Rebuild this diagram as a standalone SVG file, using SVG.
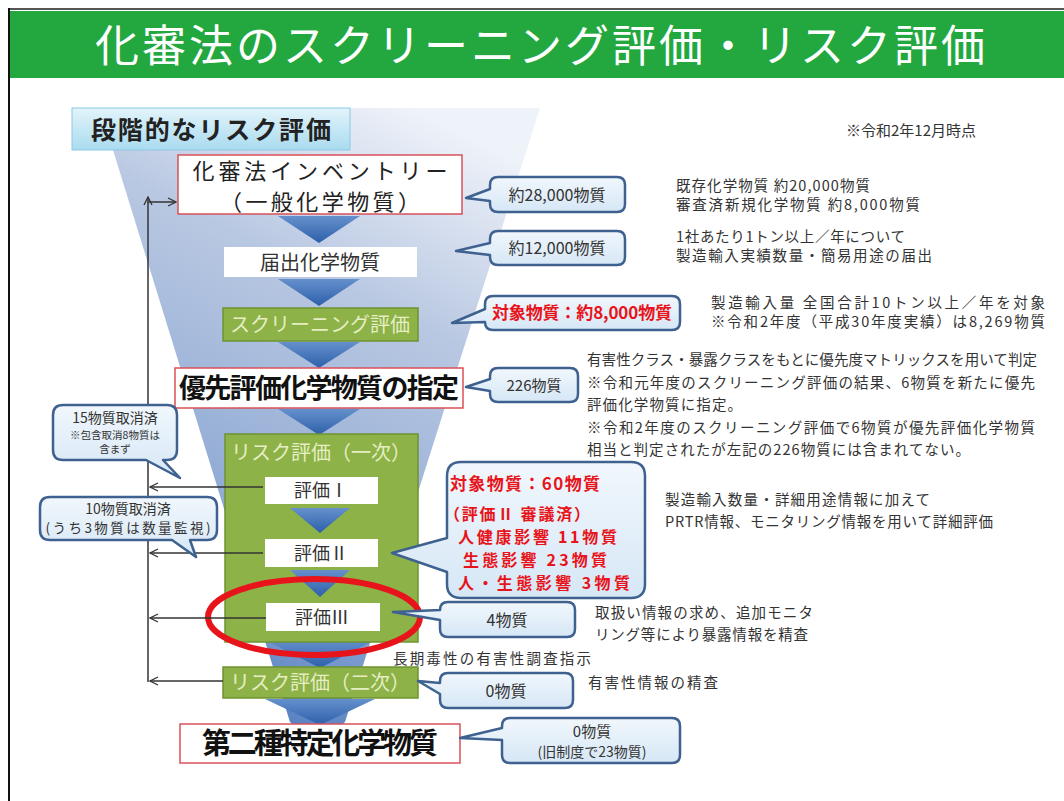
<svg xmlns="http://www.w3.org/2000/svg" width="1064" height="801" viewBox="0 0 1064 801">
<defs>
<linearGradient id="funnelG" x1="0.7" y1="0" x2="0.35" y2="1">
<stop offset="0" stop-color="#eef2f9"/>
<stop offset="0.3" stop-color="#b9c8e2"/>
<stop offset="0.75" stop-color="#8aa6d2"/>
<stop offset="1" stop-color="#4f7bbf"/>
</linearGradient>
<linearGradient id="labelG" x1="0" y1="0" x2="0" y2="1">
<stop offset="0" stop-color="#e3f4fb"/>
<stop offset="1" stop-color="#a9dbef"/>
</linearGradient>
<linearGradient id="triG" x1="0" y1="0" x2="0" y2="1">
<stop offset="0" stop-color="#6590cc"/>
<stop offset="1" stop-color="#2d60aa"/>
</linearGradient>
<linearGradient id="callG" x1="0" y1="0" x2="0" y2="1">
<stop offset="0" stop-color="#f1f7fc"/>
<stop offset="1" stop-color="#d6e7f6"/>
</linearGradient>
<marker id="arr" viewBox="0 0 10 10" refX="9" refY="5" markerWidth="10" markerHeight="10" markerUnits="userSpaceOnUse" orient="auto">
<path d="M1,1 L9,5 L1,9" fill="none" stroke="#333" stroke-width="1.3"/>
</marker>
<style>
text{font-family:"Noto Sans CJK JP","Noto Sans CJK SC",sans-serif;}
.tri{fill:url(#triG);}
.redbox{fill:#fff;stroke:#d9505a;stroke-width:1.5;}
.white{fill:#fff;}
.green{fill:#8db247;stroke:#6f9232;stroke-width:1.5;}
.gtxt{fill:#e6eec4;font-size:20px;text-anchor:middle;}
.call{fill:url(#callG);stroke:#3f6190;stroke-width:2.5;stroke-linejoin:round;}
.ct{fill:#333;font-size:16px;text-anchor:middle;}
.red{fill:#e8141b;font-weight:bold;font-size:17px;}
.red2{fill:#e8141b;font-weight:bold;font-size:16px;}
.note{fill:#333;font-size:14.5px;}
.wt{fill:#333;font-size:18px;text-anchor:middle;}
.conn{fill:none;stroke:#333;stroke-width:1.5;}
</style>
</defs>
<rect width="1064" height="801" fill="#fff"/>
<g id="frame">
<line x1="8" y1="9" x2="1064" y2="9" stroke="#555" stroke-width="2"/>
<line x1="9" y1="8" x2="9" y2="801" stroke="#111" stroke-width="2"/>
<rect x="10" y="11" width="1054" height="67" fill="#22a83f"/>
<text x="540" y="62" font-size="44" fill="#fff" text-anchor="middle" textLength="890">化審法のスクリーニング評価・リスク評価</text>
</g>
<g id="funnel">
<path d="M100,108 L540,108 L345,722 Q318,748 290,722 Z" fill="url(#funnelG)"/>
</g>
<g id="stage-label">
<rect x="72" y="108" width="278" height="42" fill="url(#labelG)" stroke="#8cc9e3" stroke-width="1"/>
<text x="211" y="139" font-size="25" font-weight="bold" fill="#222" text-anchor="middle" textLength="240">段階的なリスク評価</text>
</g>
<g id="date-note">
<text x="911" y="136" font-size="15" fill="#333" text-anchor="middle">※令和2年12月時点</text>
</g>
<g id="arrows-down">
<path class="tri" d="M278,216 L360,216 L319,243 Z"/>
<path class="tri" d="M278,279 L360,279 L319,306 Z"/>
<path class="tri" d="M278,342 L360,342 L319,368 Z"/>
<path class="tri" d="M278,409 L360,409 L319,435 Z"/>
<path class="tri" d="M265,640 L375,640 L320,668 Z"/>
<path class="tri" d="M265,699 L375,699 L320,725 Z"/>
</g>
<g id="inventory">
<rect class="redbox" x="178" y="155" width="284" height="59"/>
<text x="320" y="179" font-size="22" fill="#222" text-anchor="middle" textLength="255">化審法インベントリー</text>
<text x="320" y="210" font-size="22" fill="#222" text-anchor="middle" textLength="200">（一般化学物質）</text>
</g>
<g id="notified">
<rect class="white" x="224" y="247" width="193" height="30"/>
<text x="320" y="270" font-size="20" fill="#333" text-anchor="middle">届出化学物質</text>
</g>
<g id="screening">
<rect class="green" x="223" y="308" width="195" height="33"/>
<text class="gtxt" x="320" y="332">スクリーニング評価</text>
</g>
<g id="priority">
<rect class="redbox" x="175" y="368" width="288" height="40"/>
<text x="319" y="398" font-size="27" font-weight="bold" fill="#111" text-anchor="middle" textLength="280">優先評価化学物質の指定</text>
</g>
<g id="risk1">
<rect class="green" x="225" y="434" width="193" height="208"/>
<text class="gtxt" x="321" y="460">リスク評価（一次）</text>
<path class="tri" d="M290,508 L350,508 L320,533 Z"/>
<path class="tri" d="M290,570 L350,570 L320,597 Z"/>
</g>
<g id="eval1">
<rect class="white" x="265" y="477" width="113" height="27"/>
<text class="wt" x="321" y="497">評価Ⅰ</text>
</g>
<g id="eval2">
<rect class="white" x="265" y="539" width="113" height="28"/>
<text class="wt" x="321" y="560">評価Ⅱ</text>
</g>
<g id="eval3">
<rect class="white" x="266" y="603" width="114" height="28"/>
<text class="wt" x="322" y="624">評価Ⅲ</text>
</g>
<g id="risk2">
<rect class="green" x="223" y="667" width="195" height="31"/>
<text class="gtxt" x="320" y="690">リスク評価（二次）</text>
</g>
<g id="class2">
<rect class="redbox" x="180" y="724" width="280" height="39"/>
<text x="320" y="754" font-size="29" font-weight="bold" fill="#111" text-anchor="middle" textLength="236">第二種特定化学物質</text>
</g>
<g id="highlight">
<ellipse cx="314" cy="617" rx="106" ry="38" fill="none" stroke="#e8141b" stroke-width="6"/>
</g>
<g id="connectors">
<path class="conn" d="M148,682 V197" marker-end="url(#arr)"/>
<path class="conn" d="M148,202 H176" marker-end="url(#arr)"/>
<path class="conn" d="M263,487 H150" marker-end="url(#arr)"/>
<path class="conn" d="M263,553 H150" marker-end="url(#arr)"/>
<path class="conn" d="M266,618 H150" marker-end="url(#arr)"/>
<path class="conn" d="M223,681 H150" marker-end="url(#arr)"/>
</g>
<g id="c-28000">
<path class="call" d="M498,177 H617 Q625,177 625,185 V204 Q625,212 617,212 H498 Q490,212 490,204 V201 L466,198 L490,189 V185 Q490,177 498,177 Z"/>
<text class="ct" x="557" y="201">約28,000物質</text>
</g>
<g id="c-12000">
<path class="call" d="M498,231 H617 Q625,231 625,239 V257 Q625,265 617,265 H498 Q490,265 490,257 V255 L456,251 L490,243 V239 Q490,231 498,231 Z"/>
<text class="ct" x="557" y="254">約12,000物質</text>
</g>
<g id="c-8000">
<path class="call" d="M493,296 H672 Q680,296 680,304 V322 Q680,330 672,330 H493 Q485,330 485,322 L452,323 L485,309 V304 Q485,296 493,296 Z"/>
<text class="red" x="582" y="319" text-anchor="middle" textLength="180">対象物質：約8,000物質</text>
</g>
<g id="c-226">
<path class="call" d="M498,368 H570 Q578,368 578,376 V394 Q578,402 570,402 H498 Q490,402 490,394 V391 L466,387 L490,379 V376 Q490,368 498,368 Z"/>
<text class="ct" x="534" y="391" style="font-size:15px">226物質</text>
</g>
<g id="c-15">
<path class="call" d="M63,405 H167 Q177,405 177,415 V450 Q177,460 167,460 H163 L180,478 L146,460 H63 Q53,460 53,450 V415 Q53,405 63,405 Z"/>
<text class="ct" x="115" y="423" style="font-size:14px">15物質取消済</text>
<text class="ct" x="115" y="439" style="font-size:10.5px">※包含取消8物質は</text>
<text class="ct" x="115" y="453" style="font-size:10.5px">含まず</text>
</g>
<g id="c-10">
<path class="call" d="M50,497 H207 Q217,497 217,507 V530 Q217,540 207,540 H190 L196,557 L172,540 H50 Q40,540 40,530 V507 Q40,497 50,497 Z"/>
<text class="ct" x="128" y="514" style="font-size:14px">10物質取消済</text>
<text class="ct" x="128" y="533" style="font-size:13.5px" textLength="165">(うち3物質は数量監視)</text>
</g>
<g id="c-60">
<path class="call" d="M461,462 H631 Q645,462 645,476 V584 Q645,598 631,598 H461 Q447,598 447,584 V572 L392,553 L447,538 V476 Q447,462 461,462 Z"/>
<text class="red" x="450" y="490" textLength="150">対象物質：60物質</text>
<text class="red2" x="444" y="520" textLength="146">（評価Ⅱ 審議済）</text>
<text class="red2" x="458" y="543" textLength="159">人健康影響 11物質</text>
<text class="red2" x="463" y="566" textLength="144">生態影響 23物質</text>
<text class="red2" x="458" y="589" textLength="172">人・生態影響 3物質</text>
</g>
<g id="c-4">
<path class="call" d="M448,602 H567 Q575,602 575,610 V629 Q575,637 567,637 H448 Q440,637 440,629 V620 L393,612 L440,610 Q440,602 448,602 Z"/>
<text class="ct" x="507" y="626">4物質</text>
</g>
<g id="c-0a">
<path class="call" d="M448,673 H565 Q573,673 573,681 V700 Q573,708 565,708 H448 Q440,708 440,700 V694 L418,681 L440,683 V681 Q440,673 448,673 Z"/>
<text class="ct" x="506" y="697">0物質</text>
</g>
<g id="c-0b">
<path class="call" d="M510,718 H672 Q680,718 680,726 V755 Q680,763 672,763 H510 Q502,763 502,755 V740 L460,738 L502,728 V726 Q502,718 510,718 Z"/>
<text class="ct" x="592" y="737" style="font-size:15px">0物質</text>
<text class="ct" x="592" y="757" style="font-size:14px">(旧制度で23物質)</text>
</g>
<g id="notes">
<text class="note" x="676" y="191" textLength="194">既存化学物質 約20,000物質</text>
<text class="note" x="676" y="210" textLength="244">審査済新規化学物質 約8,000物質</text>
<text class="note" x="676" y="242" textLength="229">1社あたり1トン以上／年について</text>
<text class="note" x="676" y="261" textLength="256">製造輸入実績数量・簡易用途の届出</text>
<text class="note" x="711" y="308" textLength="334">製造輸入量 全国合計10トン以上／年を対象</text>
<text class="note" x="711" y="327" textLength="334">※令和2年度（平成30年度実績）は8,269物質</text>
<text class="note" x="587" y="365" textLength="450">有害性クラス・暴露クラスをもとに優先度マトリックスを用いて判定</text>
<text class="note" x="587" y="388" textLength="448">※令和元年度のスクリーニング評価の結果、6物質を新たに優先</text>
<text class="note" x="587" y="410" textLength="155">評価化学物質に指定。</text>
<text class="note" x="587" y="433" textLength="448">※令和2年度のスクリーニング評価で6物質が優先評価化学物質</text>
<text class="note" x="587" y="455" textLength="383">相当と判定されたが左記の226物質には含まれてない。</text>
<text class="note" x="665" y="505" textLength="265">製造輸入数量・詳細用途情報に加えて</text>
<text class="note" x="665" y="527" textLength="328">PRTR情報、モニタリング情報を用いて詳細評価</text>
<text class="note" x="595" y="618" textLength="218">取扱い情報の求め、追加モニタ</text>
<text class="note" x="595" y="640" textLength="213">リング等により暴露情報を精査</text>
<text class="note" x="393" y="664" textLength="198">長期毒性の有害性調査指示</text>
<text class="note" x="588" y="688" textLength="130">有害性情報の精査</text>
</g>
</svg>
